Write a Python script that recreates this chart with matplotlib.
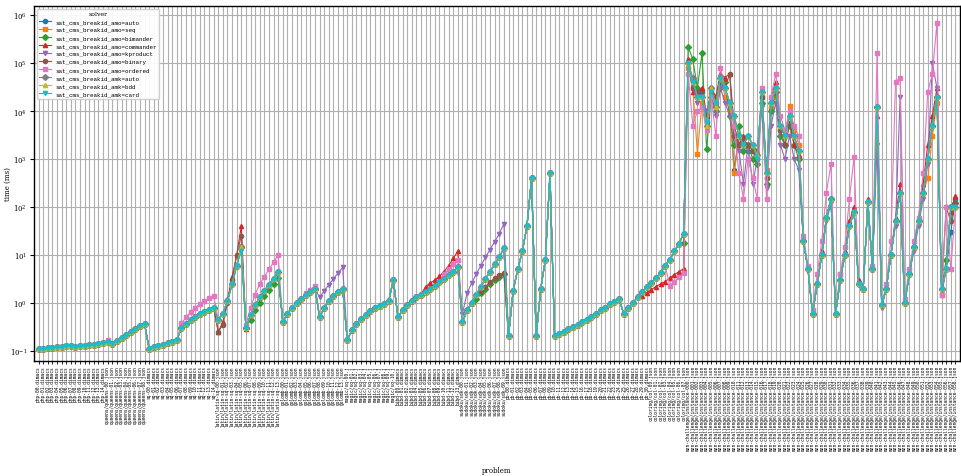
import matplotlib
matplotlib.use("Agg")
import matplotlib.pyplot as plt
from matplotlib.ticker import NullLocator

plt.rcParams["font.family"] = "serif"
plt.rcParams["font.serif"] = ["DejaVu Serif"]
plt.rcParams["mathtext.fontset"] = "cm"

solvers = ["sat_cms_breakid_amo=auto", "sat_cms_breakid_amo=seq", "sat_cms_breakid_amo=bimander",
           "sat_cms_breakid_amo=commander", "sat_cms_breakid_amo=kproduct", "sat_cms_breakid_amo=binary",
           "sat_cms_breakid_amo=ordered", "sat_cms_breakid_amk=auto", "sat_cms_breakid_amk=bdd",
           "sat_cms_breakid_amk=card"]

# run times (ms) of the easier problems, where the encodings mostly agree
left_common = [0.110,0.112,0.114,0.116,0.118,0.121,0.124,0.127,0.121,0.124,0.127,0.130,0.134,0.138,0.143,0.150,0.138,0.160,0.185,0.210,0.245,0.285,0.325,0.365,
               0.110,0.118,0.126,0.134,0.143,0.153,0.170,
               0.30,0.37,0.44,0.51,0.58,0.65,0.72,0.78,
               0.45,0.60,1.1,2.5,6.0,15,
               0.30,0.55,0.90,1.3,1.8,2.4,3.2,4.5,
               0.40,0.60,0.80,1.0,1.2,1.45,1.7,2.0,
               0.50,0.80,1.1,1.4,1.7,2.0,
               0.17,0.27,0.37,0.47,0.57,0.67,0.77,0.87,0.97,1.1,3.0,
               0.50,0.70,0.90,1.1,1.3,1.5,1.7,2.0,2.3,2.7,3.2,3.8,4.5,5.5,
               0.40,0.70,1.0,1.5,2.2,3.2,4.5,6.5,9.0,14,
               0.20,1.8,5.0,12,40,400,0.20,2.0,8.0,500,
               0.20,0.22,0.25,0.28,0.31,0.35,0.40,0.45,0.50,0.60,0.70,0.80,0.95,1.05,1.2,
               0.60,0.80,1.0,1.3,1.7,2.1,2.6,3.3,4.3,6.0,8.0,12,17,28]

# per-solver values on the easier problems where they differ from the common curve
left_diff = {
    "sat_cms_breakid_amo=ordered": {15: 0.17, 31: 0.38, 32: 0.5, 33: 0.65, 34: 0.8, 35: 0.95, 36: 1.1, 37: 1.25, 38: 1.4,
                                    45: 0.35, 46: 0.8, 47: 1.5, 48: 2.5, 49: 3.5, 50: 5, 51: 7, 52: 10,
                                    58: 1.6, 59: 1.9, 60: 2.3, 88: 4.0, 89: 5.0, 90: 6.5, 91: 8.0,
                                    137: 2.3, 138: 2.8, 139: 3.4, 140: 4.2},
    "sat_cms_breakid_amo=commander": {39: 0.25, 40: 0.4, 41: 1.2, 42: 3.5, 43: 10, 44: 40, 45: 0.28,
                                      84: 2.2, 85: 2.6, 86: 3.0, 87: 3.6, 88: 4.5, 89: 6.0, 90: 8.5, 91: 12,
                                      131: 1.4, 132: 1.6, 133: 1.9, 134: 2.2, 135: 2.5, 136: 2.8, 137: 3.3, 138: 3.9, 139: 4.5, 140: 5.2},
    "sat_cms_breakid_amo=binary": {39: 0.25, 40: 0.35, 41: 1.0, 42: 3.0, 43: 10, 44: 25,
                                   96: 1.8, 97: 2.2, 98: 2.7, 99: 3.3, 100: 3.8, 101: 4.2},
    "sat_cms_breakid_amo=kproduct": {61: 1.3, 62: 1.8, 63: 2.4, 64: 3.2, 65: 4.2, 66: 5.5,
                                     92: 0.6, 93: 1.6, 94: 2.6, 95: 4, 96: 6, 97: 9, 98: 13, 99: 19, 100: 28, 101: 45},
    "sat_cms_breakid_amo=bimander": {46: 0.45, 47: 0.7, 48: 1.0, 49: 1.4, 50: 1.9, 51: 2.5, 52: 3.3,
                                     95: 1.2, 96: 1.6, 97: 2.0, 98: 2.5, 99: 3.0, 100: 3.5, 101: 4.0, 140: 18},
    "sat_cms_breakid_amk=card": {44: 12},
}

# run times (ms) of the harder problems, one list per solver
right = {
    "sat_cms_breakid_amo=auto": [1.0e5,4e4,2e4,2.5e4,6e3,3e4,1.2e4,4e4,3e4,1.5e4,6e2,3e3,2e3,1.5e3,2e3,1.2e3,2.5e4,4e2,1.5e4,3e4,5e3,3e3,8e3,3e3,1.5e3,
                                 20,5,0.6,2.5,10,60,150,0.6,3,10,40,80,2.5,2,130,5,1.2e4,0.9,2,10,50,200,1,4,15,50,200,1000,5000,2e4,2,5,30,150],
    "sat_cms_breakid_amo=seq": [8e4,3e4,1.3e3,1.5e4,8e3,2.5e4,2e4,5e4,2e4,1e4,5e2,3e3,2.5e3,2e3,1.5e3,1e3,2e4,6e2,1.2e4,2e4,4e3,2e3,1.3e4,4e3,2e3,
                                20,5,0.6,2.5,10,60,150,0.6,4,10,40,80,2.5,2,130,5,1.2e4,0.9,2,10,50,200,1,4,15,50,200,400,3e3,1.5e4,1.5,5,100,120],
    "sat_cms_breakid_amo=bimander": [2.2e5,1.2e5,3e4,1.6e5,1.6e3,2e4,1e4,3e4,4e4,8e3,2e3,5e3,1.5e3,2e3,1e3,8e2,1.5e4,3e2,1e4,2.5e4,3e3,2e3,5e3,2e3,1e3,
                                     20,5,0.6,2.5,10,60,150,0.6,3,10,40,80,2.5,2,130,5,1.2e4,0.9,2,10,50,200,1,4,15,50,200,1000,5e3,2e4,2,8,100,120],
    "sat_cms_breakid_amo=commander": [1.2e5,2.5e4,2.5e4,3e4,8e3,3e4,2e4,6e4,5e4,6e4,5e3,2e3,3e3,3e3,2e3,1.5e3,2e4,5e2,2e4,4e4,5e3,3e3,6e3,2e3,1.2e3,
                                      20,5,0.6,2.5,12,60,150,0.6,3,12,50,100,3,2,150,5,8e3,0.9,2,10,60,300,1,4,15,60,300,2e3,8e3,3e4,2,5,80,170],
    "sat_cms_breakid_amo=kproduct": [9e4,3e4,1.5e4,2e4,1e4,2e4,8e3,3e4,1.5e4,8e3,3e3,1.5e3,3e2,2e3,3e2,1e3,1.2e4,2.5e2,5e3,1.5e4,2e3,1e3,3e3,1e3,6e2,
                                     20,5,0.6,2.5,10,50,120,0.6,3,10,40,80,2.5,2,120,5,2e3,0.8,2,10,40,2e4,1,4,12,40,150,800,1e5,3e4,1.5,5,100,100],
    "sat_cms_breakid_amo=binary": [1e5,3e4,2.5e4,2e4,5e3,3e4,1.5e4,5e4,3e4,6e4,3e3,2e3,2.5e3,2e3,1.5e3,1e3,2e4,4e2,1.5e4,2.5e4,4e3,2e3,5e3,3e3,1.5e3,
                                   20,5,0.6,2.5,10,60,150,0.6,3,10,40,80,2.5,2,130,5,1.2e4,0.9,2,10,50,200,1,4,15,50,200,1000,5e3,2e4,2,100,50,120],
    "sat_cms_breakid_amo=ordered": [6e4,5e3,1e4,1.2e4,4e3,2e4,3e3,8e4,3e4,1.5e4,5e3,5e2,1.5e2,1e3,4e2,1.5e2,3e4,1.5e2,2e4,6e4,8e3,4e3,1e4,5e3,3e3,
                                    25,6,0.7,4,20,200,800,0.6,4,15,150,1100,2.5,2,130,6,1.6e5,0.9,2.5,20,4e4,5e4,1.2,5,20,60,500,2.5e4,6e4,7e5,1.5,100,5,100],
    "sat_cms_breakid_amk=auto": [1e5,5e4,2e4,2e4,5e3,3e4,1.2e4,5e4,3e4,1.5e4,8e3,3e3,2e3,3e3,2e3,1.2e3,2.5e4,5e2,1.5e4,3e4,5e3,3e3,8e3,3e3,1.5e3,
                                 20,5,0.6,2.5,10,60,150,0.6,3,10,40,80,2.5,2,130,5,1.2e4,0.9,2,10,50,200,1,4,15,50,200,1000,5000,2e4,2,5,100,100],
    "sat_cms_breakid_amk=bdd": [1e5,4e4,2e4,2e4,5e3,3e4,1.2e4,5e4,3e4,1.5e4,8e3,3e3,2e3,3e3,2e3,1.2e3,2.5e4,5e2,1.5e4,3e4,5e3,3e3,8e3,3e3,1.5e3,
                                20,5,0.6,2.5,10,60,150,0.6,3,10,40,80,2.5,2,130,5,1.2e4,0.9,2,10,50,200,1,4,15,50,200,1000,5000,2e4,2,5,100,100],
    "sat_cms_breakid_amk=card": [1e5,4e4,2e4,2e4,6e3,2.5e4,1.5e4,5e4,3e4,1.5e4,8e3,3e3,2e3,3e3,2e3,1e3,2.5e4,5e2,1.5e4,3e4,5e3,3e3,8e3,3e3,1.5e3,
                                 20,5,0.6,2.5,10,60,150,0.6,3,10,40,80,2.5,2,130,5,1.2e4,0.9,2,10,50,200,1,4,15,50,200,1000,5000,2e4,2,5,100,100],
}

problems = ([f"php-{k:02d}.dimacs" for k in range(15)] + [f"queens/queens-{k:02d}.json" for k in range(9)]
            + [f"sq-{k:02d}.dimacs" for k in range(15)] + [f"latin/latin-sq-{k:02d}.json" for k in range(14)]
            + [f"golomb-{k:02d}.json" for k in range(14)] + [f"magic/sq-{k:02d}.j" for k in range(11)]
            + [f"bibd-{k:02d}.dimacs" for k in range(14)] + [f"sudoku/sdk-{k:02d}.json" for k in range(10)]
            + [f"pb-{k:02d}.dimacs" for k in range(31)] + [f"coloring/col-{k:02d}.json" for k in range(8)]
            + [f"mzn-challenge/instance-{k:03d}.json" for k in range(59)])

colors = plt.get_cmap("tab10").colors
markers = ["o", "s", "D", "^", "v", "o", "s", "D", "^", "v"]

fig = plt.figure(figsize=(9.62, 4.77), dpi=100)
ax = fig.add_axes([34 / 962, 1 - 362 / 477, (960 - 34) / 962, (362 - 7) / 477])
x = list(range(len(problems)))
for k, name in enumerate(solvers):
    vals = list(left_common)
    for idx, v in left_diff.get(name, {}).items():
        vals[idx] = v
    vals += right[name]
    ax.plot(x, vals, color=colors[k], marker=markers[k], ms=3, lw=0.8, label=name)

ax.set_yscale("log")
ax.set_ylim(10 ** -1.21, 10 ** 6.19)
ax.set_xlim(-1, len(problems))
ax.yaxis.set_minor_locator(NullLocator())
ax.set_xticks(x)
ax.set_xticklabels(problems, rotation=90, fontsize=3.3, family="DejaVu Sans Mono")
ax.tick_params(axis="y", labelsize=5, pad=2, length=3)
ax.tick_params(axis="x", length=2, width=0.6, pad=1)
ax.grid(True, which="major", color="#b0b0b0", lw=0.8)
ax.set_axisbelow(True)
for s in ax.spines.values():
    s.set_linewidth(1.0)
ax.set_ylabel("time (ms)", fontsize=5)
ax.yaxis.set_label_coords(-22 / 926, 0.5)
ax.set_xlabel("problem", fontsize=5)
ax.xaxis.set_label_coords(0.5, -(467 - 362) / 355)
leg = ax.legend(title="solver", loc="upper left", fontsize=4.2, title_fontsize=4.5,
                prop={"family": "Liberation Mono", "size": 4.2}, framealpha=0.9)
fig.savefig("out.png", dpi=100)
